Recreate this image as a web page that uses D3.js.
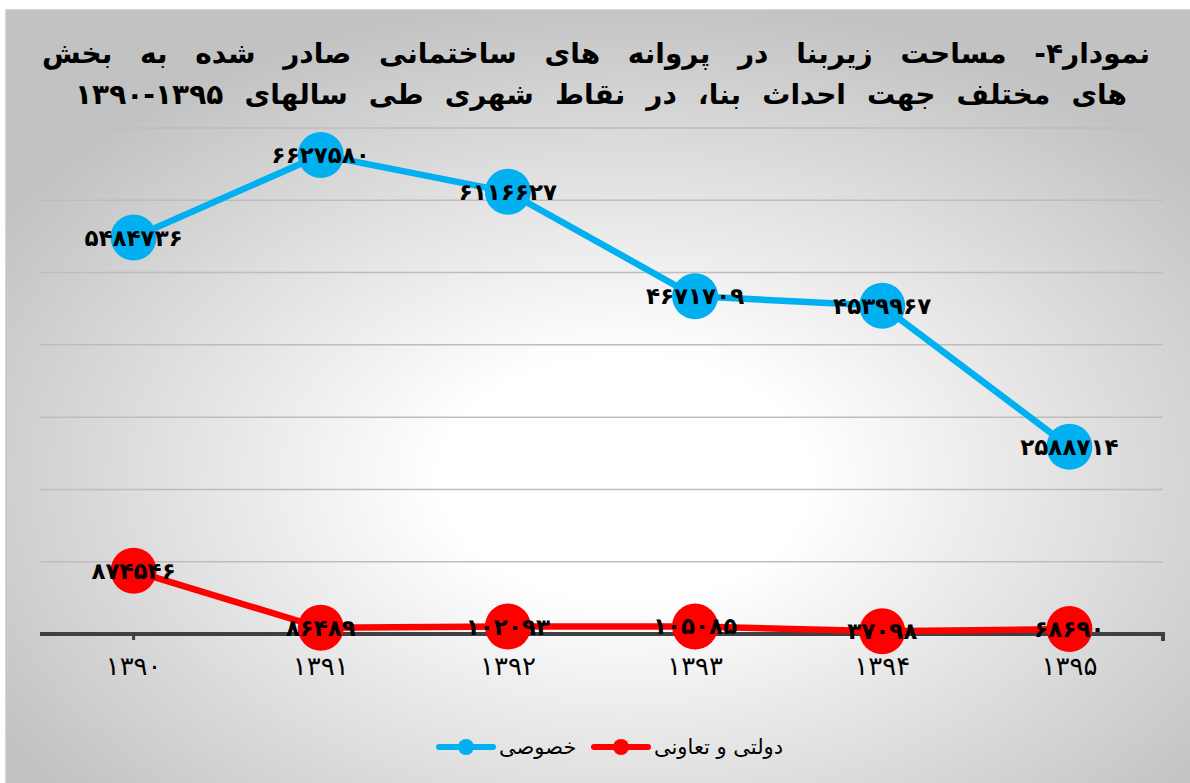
<!DOCTYPE html>
<html>
<head>
<meta charset="utf-8">
<script src="https://cdn.jsdelivr.net/npm/d3@7"></script>
<style>
  body { margin: 0; background: #fff; }
  svg { display: block; font-family: 'DejaVu Sans', sans-serif; }
</style>
</head>
<body>
<svg id="chart" width="1190" height="783"></svg>
<script>
// chart data
const years = ['1390', '1391', '1392', '1393', '1394', '1395']
const privateValues = [5484736, 6627580, 6116627, 4671709, 4539967, 2588714]
const publicValues = [874546, 86489, 102093, 105085, 37098, 68690]
const seriesNames = ['خصوصی', 'دولتی و تعاونی']
const titleLines = [
  'نمودار۴- مساحت زیربنا در پروانه های ساختمانی صادر شده به بخش',
  'های مختلف جهت احداث بنا، در نقاط شهری طی سالهای ۱۳۹۵-۱۳۹۰',
]
const yTicks = [0, 1000000, 2000000, 3000000, 4000000, 5000000, 6000000, 7000000]

const blue = '#00b0f0'
const red = '#ff0000'

// western digits -> persian digits
const fa = (v) => String(v).replace(/\d/g, (d) => '۰۱۲۳۴۵۶۷۸۹'[+d])

const svg = d3.select('#chart')

// background with radial shading
const defs = svg.append('defs')
const grad = defs
  .append('radialGradient')
  .attr('id', 'bg')
  .attr('cx', '52%')
  .attr('cy', '60%')
  .attr('r', '62%')
grad.append('stop').attr('offset', '0%').attr('stop-color', '#ffffff')
grad.append('stop').attr('offset', '25%').attr('stop-color', '#ffffff')
grad.append('stop').attr('offset', '100%').attr('stop-color', '#c2c2c2')

svg
  .append('rect')
  .attr('x', 6)
  .attr('y', 10)
  .attr('width', 1190)
  .attr('height', 780)
  .attr('fill', 'url(#bg)')
  .attr('stroke', '#c8c8c8')
  .attr('stroke-width', 1.5)

// title
const titleTargets = [1108, 1052]
const titleCenters = [596, 601]
titleLines.forEach((line, i) => {
  const t = svg
    .append('text')
    .attr('x', titleCenters[i])
    .attr('y', i === 0 ? 63 : 104)
    .attr('text-anchor', 'middle')
    .attr('direction', 'rtl')
    .attr('font-size', 28)
    .attr('font-weight', 'bold')
    .attr('fill', '#000')
    .text(line)
  // stretch word gaps to reach the line width
  const w = t.node().getComputedTextLength()
  const gaps = line.split(' ').length - 1
  t.attr('word-spacing', Math.max(0, (titleTargets[i] - w) / gaps))
})

// scales
const x = d3.scaleBand().domain(years).range([40, 1163])
const y = d3.scaleLinear().domain([0, 7000000]).range([634, 128])
const cx = (d, i) => x(years[i]) + x.bandwidth() / 2

// gridlines
svg
  .append('g')
  .selectAll('line')
  .data(yTicks.slice(1))
  .enter()
  .append('line')
  .attr('x1', 40)
  .attr('x2', 1163)
  .attr('y1', (d) => y(d))
  .attr('y2', (d) => y(d))
  .attr('stroke', '#bdbdbd')
  .attr('stroke-width', 1.5)

// category axis
const xAxis = svg
  .append('g')
  .attr('transform', `translate(0,${y(0)})`)
  .call(
    d3
      .axisBottom(x)
      .tickSize(6)
      .tickPadding(17)
      .tickFormat((d) => fa(d))
  )
xAxis.select('.domain').attr('stroke', '#404040').attr('stroke-width', 4).attr('d', 'M40,0H1163V7')
xAxis.selectAll('.tick line').attr('stroke', '#404040').attr('stroke-width', 3)
xAxis
  .selectAll('.tick text')
  .attr('font-size', 26)
  .attr('font-family', 'DejaVu Sans')
  .attr('fill', '#000')

// series
const series = [
  { name: seriesNames[0], values: privateValues, color: blue },
  { name: seriesNames[1], values: publicValues, color: red },
]

const line = d3
  .line()
  .x((d, i) => cx(d, i))
  .y((d) => y(d))

series.forEach((s) => {
  const g = svg.append('g')
  g.append('path')
    .attr('d', line(s.values))
    .attr('fill', 'none')
    .attr('stroke', s.color)
    .attr('stroke-width', 6.5)
    .attr('stroke-linejoin', 'round')
  g.selectAll('circle')
    .data(s.values)
    .enter()
    .append('circle')
    .attr('cx', cx)
    .attr('cy', (d) => y(d))
    .attr('r', 23)
    .attr('fill', s.color)
})

// data labels
series.forEach((s) => {
  svg
    .append('g')
    .selectAll('text')
    .data(s.values)
    .enter()
    .append('text')
    .attr('x', cx)
    .attr('y', (d) => y(d) + 8)
    .attr('text-anchor', 'middle')
    .attr('font-size', 23)
    .attr('font-weight', 'bold')
    .attr('fill', '#000')
    .text((d) => fa(d))
})

// legend
const legendItems = [
  { name: seriesNames[0], color: blue, x: 437 },
  { name: seriesNames[1], color: red, x: 592 },
]
legendItems.forEach((it) => {
  const g = svg.append('g').attr('transform', `translate(${it.x},747)`)
  g.append('line')
    .attr('x1', 2)
    .attr('x2', 56)
    .attr('stroke', it.color)
    .attr('stroke-width', 6)
    .attr('stroke-linecap', 'round')
  g.append('circle').attr('cx', 29).attr('r', 8).attr('fill', it.color)
  g.append('text')
    .attr('x', 62)
    .attr('y', 7)
    .attr('font-size', 21)
    .attr('fill', '#000')
    .text(it.name)
})
</script>
</body>
</html>
